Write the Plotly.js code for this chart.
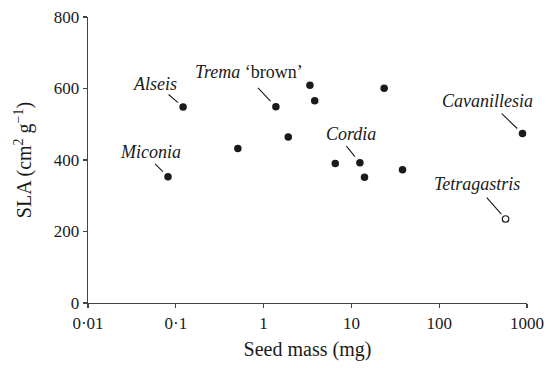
<!DOCTYPE html>
<html>
<head>
<meta charset="utf-8">
<script src="https://cdn.plot.ly/plotly-3.0.1.min.js"></script>
<style>html,body{margin:0;padding:0;background:#fff;}#chart{width:546px;height:368px;}</style>
</head>
<body>
<div id="chart"></div>
<script>
// Data (filled points)
const seedMass = [0.0815, 0.121, 0.509, 1.38, 1.91, 3.37, 3.82, 6.55, 12.5, 14.1, 23.6, 38.2, 889];
const sla      = [353,    548,   432,   549,  464,  609,  566,  390,  392,  352,  601,  373,  474];
const species  = ['Miconia', 'Alseis', '', 'Trema', '', '', '', '', 'Cordia', '', '', '', 'Cavanillesia'];
// Open point
const openSeedMass = [570];
const openSla = [235];
const openSpecies = ['Tetragastris'];

const tickVals = [0.01, 0.1, 1, 10, 100, 1000];
const tickText = ['0·01', '0·1', '1', '10', '100', '1000'];

// label styling / placement (pixel offsets, not data)
const labelStyle = {
  'Miconia':      {text: '<i>Miconia</i>',       dx: -18, dy: -25, ax: -13.4, ay: -13.4, so: 7.3},
  'Alseis':       {text: '<i>Alseis</i>',        dx: -28, dy: -23, ax: -15,   ay: -13,   so: 6.7},
  'Trema':        {text: '<i>Trema</i> ‘brown’', dx: -27, dy: -35, ax: -18.4, ay: -19.4, so: 7.8},
  'Cordia':       {text: '<i>Cordia</i>',        dx: -9,  dy: -29, ax: -14,   ay: -17.3, so: 8},
  'Cavanillesia': {text: '<i>Cavanillesia</i>',  dx: -35, dy: -33, ax: -21.3, ay: -20.4, so: 7.3},
  'Tetragastris': {text: '<i>Tetragastris</i>',  dx: -29, dy: -35, ax: -19.3, ay: -22,   so: 6.5}
};

const serif = 'Liberation Serif, Times New Roman, serif';
const annotations = [];
function addLabel(name, x, y) {
  const s = labelStyle[name];
  annotations.push({x: Math.log10(x), y: y, xref: 'x', yref: 'y', text: s.text, showarrow: false,
    xshift: s.dx, yshift: -s.dy, font: {family: serif, size: 18, color: '#1a1a1a'}, xanchor: 'center', yanchor: 'middle'});
  annotations.push({x: Math.log10(x), y: y, xref: 'x', yref: 'y', text: ' ', showarrow: true,
    ax: s.ax, ay: s.ay, arrowhead: 0, arrowwidth: 1.1, arrowcolor: '#1a1a1a', standoff: s.so,
    font: {size: 1}, borderpad: 0});
}
species.forEach((n, i) => { if (n) addLabel(n, seedMass[i], sla[i]); });
openSpecies.forEach((n, i) => { if (n) addLabel(n, openSeedMass[i], openSla[i]); });

const traces = [
  {x: seedMass, y: sla, type: 'scatter', mode: 'markers',
   marker: {size: 7.5, color: '#1a1a1a'}, hoverinfo: 'none', cliponaxis: false},
  {x: openSeedMass, y: openSla, type: 'scatter', mode: 'markers',
   marker: {size: 6.5, color: '#fff', line: {color: '#1a1a1a', width: 1.2}}, hoverinfo: 'none', cliponaxis: false}
];

const axisCommon = {
  showgrid: false, zeroline: false, showline: true, linecolor: '#444', linewidth: 1.3,
  ticks: 'outside', ticklen: 4, tickwidth: 1.3, tickcolor: '#444',
  tickfont: {family: serif, size: 17, color: '#1a1a1a'}
};

const layout = {
  width: 546, height: 368,
  margin: {l: 88, r: 19, t: 17, b: 65},
  paper_bgcolor: '#fff', plot_bgcolor: '#fff',
  showlegend: false,
  xaxis: Object.assign({}, axisCommon, {
    type: 'log', range: [-2, 3], tickvals: tickVals, ticktext: tickText,
    title: {text: 'Seed mass (mg)', font: {family: serif, size: 20, color: '#1a1a1a'}, standoff: 10}
  }),
  yaxis: Object.assign({}, axisCommon, {
    range: [0, 800], tickvals: [0, 200, 400, 600, 800],
    title: {text: 'SLA (cm<sup>2</sup> g<sup>−1</sup>)', font: {family: serif, size: 20, color: '#1a1a1a'}, standoff: 16}
  }),
  annotations: annotations
};

Plotly.newPlot('chart', traces, layout, {staticPlot: true, displayModeBar: false});
</script>
</body>
</html>
